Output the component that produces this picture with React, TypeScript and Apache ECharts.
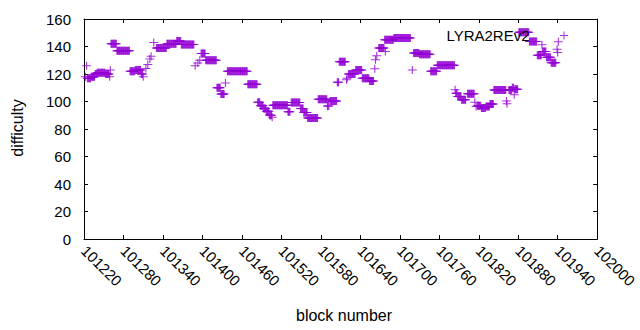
import React, { useEffect, useRef } from "react";
import * as echarts from "echarts";

// Runs of consecutive blocks sharing one difficulty value
const runStart = [
  101222, 101224, 101225, 101231, 101237, 101240, 101253, 101259, 101260, 101261,
  101270, 101290, 101298, 101307, 101310, 101314, 101317, 101320, 101322, 101326,
  101330, 101346, 101361, 101368, 101389, 101393, 101396, 101398, 101405, 101422,
  101428, 101435, 101438, 101469, 101484, 101488, 101493, 101497, 101502, 101506,
  101507, 101530, 101535, 101549, 101554, 101560, 101576, 101590, 101594, 101605,
  101608, 101619, 101620, 101622, 101633, 101643, 101654, 101662, 101663, 101665,
  101668, 101677, 101678, 101691, 101719, 101721, 101730, 101747, 101757, 101784,
  101785, 101788, 101794, 101803, 101814, 101816, 101818, 101824, 101831, 101837,
  101843, 101862, 101863, 101866, 101871, 101874, 101875, 101881, 101897, 101909,
  101916, 101917, 101923, 101930, 101939, 101940, 101941,
];
const runEnd = [
  101222, 101224, 101230, 101236, 101239, 101252, 101258, 101259, 101260, 101269,
  101289, 101297, 101306, 101309, 101310, 101314, 101317, 101320, 101322, 101326,
  101345, 101360, 101367, 101387, 101389, 101393, 101396, 101404, 101421, 101427,
  101433, 101435, 101468, 101483, 101487, 101492, 101496, 101501, 101505, 101506,
  101529, 101533, 101548, 101553, 101559, 101575, 101589, 101592, 101604, 101607,
  101617, 101619, 101620, 101632, 101642, 101653, 101660, 101662, 101663, 101665,
  101676, 101690, 101678, 101716, 101719, 101729, 101746, 101756, 101783, 101784,
  101787, 101793, 101800, 101813, 101814, 101816, 101823, 101830, 101836, 101842,
  101861, 101862, 101863, 101870, 101873, 101874, 101879, 101896, 101908, 101915,
  101916, 101922, 101929, 101937, 101939, 101940, 101941,
];
const runValue = [
  118, 126, 117, 118, 120, 121, 120, 118, 123, 142,
  137, 122, 123, 120, 118, 124, 127, 131, 133, 143,
  139, 142, 144, 141.5, 126, 128, 130, 135, 130, 110,
  105.5, 113.5, 122, 112.5, 99.5, 97, 95, 93, 90, 88.5,
  97.2, 92.5, 99.3, 95, 92, 88, 101.6, 96.7, 100.3, 114,
  129, 115.8, 117, 120, 123, 117, 115, 123.8, 130.4, 133.3,
  139, 145, 136.4, 146.2, 123, 135.2, 134.4, 122, 126.4, 108.5,
  106, 103.6, 101.2, 105.6, 99.5, 96.4, 97, 95.3, 96.4, 98.2,
  108.3, 100.3, 98.3, 108.3, 110, 104.9, 109, 150.3, 143.7, 133.6,
  141.3, 136.4, 132.2, 128.2, 138, 135.7, 143.5,
];

const seriesName = "LYRA2REv2";
const xMin = 101220;
const xMax = 102000;
const xStep = 60;
const yMin = 0;
const yMax = 160;
const yStep = 20;
const xTitle = "block number";
const yTitle = "difficulty";

const FONT = "'Liberation Sans', Arial, sans-serif";
const COLOR = "#9400d3";
const PLUS =
  "path://M0,3.5L8,3.5L8,4.5L0,4.5Z M3.5,0L4.5,0L4.5,8L3.5,8Z";

function buildPoints(): number[][] {
  const pts: number[][] = [];
  for (let i = 0; i < runStart.length; i++) {
    for (let b = runStart[i]; b <= runEnd[i]; b++) {
      pts.push([b, runValue[i]]);
    }
  }
  return pts;
}

export default function App() {
  const ref = useRef<HTMLDivElement>(null);
  useEffect(() => {
    document.body.style.margin = "0";
    if (!ref.current) return;
    const chart = echarts.init(ref.current, undefined, { renderer: "svg" });
    const axisCommon = {
      type: "value" as const,
      axisLine: { show: true, onZero: false, lineStyle: { color: "#000", width: 1 } },
      axisTick: { show: true, inside: true, length: 4, lineStyle: { color: "#000", width: 1 } },
      splitLine: { show: false },
    };
    chart.setOption({
      animation: false,
      backgroundColor: "#fff",
      grid: { left: 84, right: 31, top: 19, bottom: 91, containLabel: false },
      legend: {
        data: [{ name: seriesName, icon: PLUS }],
        right: 67,
        top: 23,
        align: "right",
        itemWidth: 9,
        itemHeight: 8,
        selectedMode: false,
        textStyle: { fontSize: 15, fontFamily: FONT, color: "#000", padding: [0, 25, 0, 0] },
      },
      xAxis: [
        {
          ...axisCommon,
          position: "bottom",
          min: xMin,
          max: xMax,
          interval: xStep,
          axisLabel: {
            show: true,
            rotate: -45,
            margin: 9,
            color: "#000",
            fontSize: 15,
            fontFamily: FONT,
            showMinLabel: true,
            showMaxLabel: true,
            hideOverlap: false,
            formatter: (v: number) => String(v),
          },
        },
        {
          ...axisCommon,
          position: "top",
          min: xMin,
          max: xMax,
          interval: xStep,
          axisLabel: { show: false },
        },
      ],
      yAxis: [
        {
          ...axisCommon,
          position: "left",
          min: yMin,
          max: yMax,
          interval: yStep,
          axisLabel: { show: true, margin: 13, color: "#000", fontSize: 15, fontFamily: FONT },
        },
        {
          ...axisCommon,
          position: "right",
          min: yMin,
          max: yMax,
          interval: yStep,
          axisLabel: { show: false },
        },
      ],
      graphic: [
        {
          type: "text",
          x: 17,
          y: 128,
          rotation: Math.PI / 2,
          style: {
            text: yTitle,
            fontSize: 16,
            fontFamily: FONT,
            fill: "#000",
            align: "center",
            verticalAlign: "middle",
            textAlign: "center",
            textVerticalAlign: "middle",
          },
        },
        {
          type: "text",
          x: 344,
          y: 315,
          style: {
            text: xTitle,
            fontSize: 16,
            fontFamily: FONT,
            fill: "#000",
            align: "center",
            verticalAlign: "middle",
            textAlign: "center",
            textVerticalAlign: "middle",
          },
        },
      ],
      series: [
        {
          name: seriesName,
          type: "scatter",
          xAxisIndex: 0,
          yAxisIndex: 0,
          symbol: PLUS,
          symbolSize: [9, 8],
          itemStyle: { color: COLOR },
          data: buildPoints(),
          silent: true,
        },
      ],
    });
    return () => chart.dispose();
  }, []);
  return <div ref={ref} style={{ width: 640, height: 330 }} />;
}
